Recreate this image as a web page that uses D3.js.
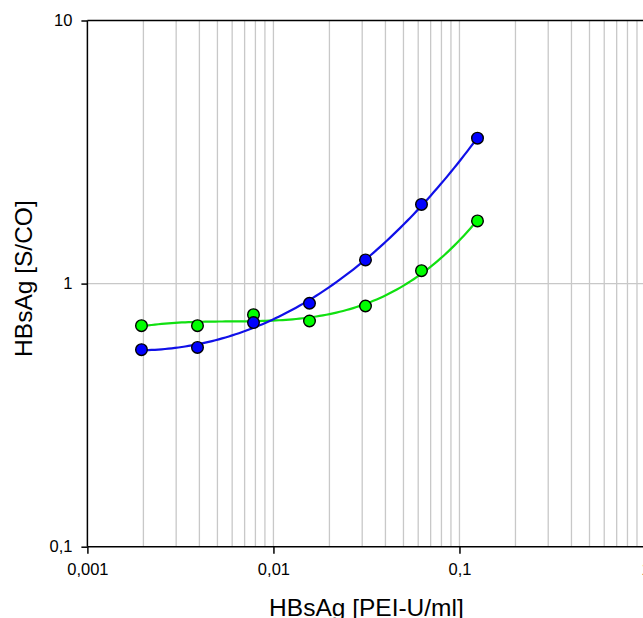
<!DOCTYPE html>
<html>
<head>
<meta charset="utf-8">
<script src="https://cdn.jsdelivr.net/npm/d3@7"></script>
<style>
  html, body { margin: 0; padding: 0; background: #fff; overflow: hidden; }
  svg { display: block; }
  text { font-family: "Liberation Sans", Arial, sans-serif; fill: #000; }
</style>
</head>
<body>
<svg id="chart" width="643" height="618"></svg>
<script>
// HBsAg dilution series (PEI-U/ml) and measured signal/cut-off ratios
const concentrations = [0.001953, 0.003906, 0.0078125, 0.015625, 0.03125, 0.0625, 0.125];
const seriesBlue  = [0.561, 0.572, 0.711, 0.842, 1.23, 2.00, 3.57];
const seriesGreen = [0.692, 0.692, 0.762, 0.721, 0.822, 1.12, 1.73];

const xMajorTicks = [0.001, 0.01, 0.1, 1];
const xTickLabels = ["0,001", "0,01", "0,1", "1"];
const yMajorTicks = [0.1, 1, 10];
const yTickLabels = ["0,1", "1", "10"];

const xTitle = "HBsAg [PEI-U/ml]";
const yTitle = "HBsAg [S/CO]";

const margin = { left: 87.4, top: 20.5 };
const plotW = 558.1, plotH = 526.2;

const svg = d3.select("#chart");
const g = svg.append("g").attr("transform", `translate(${margin.left},${margin.top})`);

const x = d3.scaleLog().domain([0.001, 1]).range([0, plotW]);
const y = d3.scaleLog().domain([0.1, 10]).range([plotH, 0]);

// vertical grid at every 1..9 step of each decade
const xGrid = [];
[0.001, 0.01, 0.1].forEach(d => { for (let k = 1; k <= 9; k++) xGrid.push(d * k); });
xGrid.push(1);

g.append("g")
  .selectAll("line")
  .data(xGrid.filter(v => v > 0.001))
  .join("line")
  .attr("x1", d => x(d)).attr("x2", d => x(d))
  .attr("y1", 0).attr("y2", plotH)
  .attr("stroke", "#c8c8c8").attr("stroke-width", 1.3);

// horizontal grid at inner decades only
g.append("g")
  .selectAll("line")
  .data(yMajorTicks.filter(v => v > 0.1 && v < 10))
  .join("line")
  .attr("x1", 0).attr("x2", plotW)
  .attr("y1", d => y(d)).attr("y2", d => y(d))
  .attr("stroke", "#c8c8c8").attr("stroke-width", 1.3);

// frame: top border, left and bottom axes
g.append("line").attr("x1", 0).attr("x2", plotW).attr("y1", 0).attr("y2", 0)
  .attr("stroke", "#000").attr("stroke-width", 1.5);

const xAxis = d3.axisBottom(x)
  .tickValues(xMajorTicks)
  .tickFormat((d, i) => xTickLabels[i])
  .tickSize(7).tickPadding(6);
const gx = g.append("g").attr("transform", `translate(0,${plotH})`).call(xAxis);
gx.select(".domain").attr("stroke-width", 1.5).attr("d", `M0,0H${plotW}`);
gx.selectAll(".tick line").attr("stroke-width", 1.5);
gx.selectAll(".tick text").attr("font-size", "16.5px").attr("font-family", "Liberation Sans, Arial, sans-serif").attr("dy", "0.95em");

const yAxis = d3.axisLeft(y)
  .tickValues(yMajorTicks)
  .tickFormat((d, i) => yTickLabels[i])
  .tickSize(6).tickPadding(9);
const gy = g.append("g").call(yAxis);
gy.select(".domain").attr("stroke-width", 1.5).attr("d", `M0,0V${plotH}`);
gy.selectAll(".tick line").attr("stroke-width", 1.5);
gy.selectAll(".tick text").attr("font-size", "16.5px").attr("font-family", "Liberation Sans, Arial, sans-serif");

// least-squares cubic of log(signal) against log(concentration)
function cubicFit(xs, ys) {
  const u = xs.map(Math.log10), v = ys.map(Math.log10);
  const n = 4;
  const A = Array.from({ length: n }, () => new Array(n + 1).fill(0));
  for (let i = 0; i < u.length; i++) {
    for (let r = 0; r < n; r++) {
      for (let c = 0; c < n; c++) A[r][c] += Math.pow(u[i], r + c);
      A[r][n] += v[i] * Math.pow(u[i], r);
    }
  }
  for (let p = 0; p < n; p++) {
    let m = p;
    for (let r = p + 1; r < n; r++) if (Math.abs(A[r][p]) > Math.abs(A[m][p])) m = r;
    [A[p], A[m]] = [A[m], A[p]];
    for (let r = p + 1; r < n; r++) {
      const f = A[r][p] / A[p][p];
      for (let c = p; c <= n; c++) A[r][c] -= f * A[p][c];
    }
  }
  const coef = new Array(n).fill(0);
  for (let r = n - 1; r >= 0; r--) {
    let s = A[r][n];
    for (let c = r + 1; c < n; c++) s -= A[r][c] * coef[c];
    coef[r] = s / A[r][r];
  }
  const u0 = d3.min(u), u1 = d3.max(u);
  return d3.range(0, 101).map(k => {
    const uu = u0 + (u1 - u0) * k / 100;
    const vv = coef[0] + coef[1] * uu + coef[2] * uu * uu + coef[3] * uu * uu * uu;
    return [Math.pow(10, uu), Math.pow(10, vv)];
  });
}

const line = d3.line().x(d => x(d[0])).y(d => y(d[1])).curve(d3.curveLinear);

const series = [
  { values: seriesGreen, color: "#00ff00", stroke: "#10e010" },
  { values: seriesBlue,  color: "#0000ff", stroke: "#1010e8" }
];

series.forEach(s => {
  g.append("path")
    .datum(cubicFit(concentrations, s.values))
    .attr("d", line)
    .attr("fill", "none")
    .attr("stroke", s.stroke)
    .attr("stroke-width", 2.2);
});

series.forEach(s => {
  g.append("g")
    .selectAll("circle")
    .data(concentrations.map((c, i) => [c, s.values[i]]))
    .join("circle")
    .attr("cx", d => x(d[0]))
    .attr("cy", d => y(d[1]))
    .attr("r", 5.8)
    .attr("fill", s.color)
    .attr("stroke", "#000")
    .attr("stroke-width", 1.4);
});

// axis titles
svg.append("text")
  .attr("x", margin.left + plotW / 2)
  .attr("y", 616)
  .attr("text-anchor", "middle")
  .attr("font-size", "24.5px")
  .text(xTitle);

svg.append("text")
  .attr("transform", `translate(32,${margin.top + plotH / 2 - 5}) rotate(-90)`)
  .attr("text-anchor", "middle")
  .attr("font-size", "24.5px")
  .text(yTitle);
</script>
</body>
</html>
